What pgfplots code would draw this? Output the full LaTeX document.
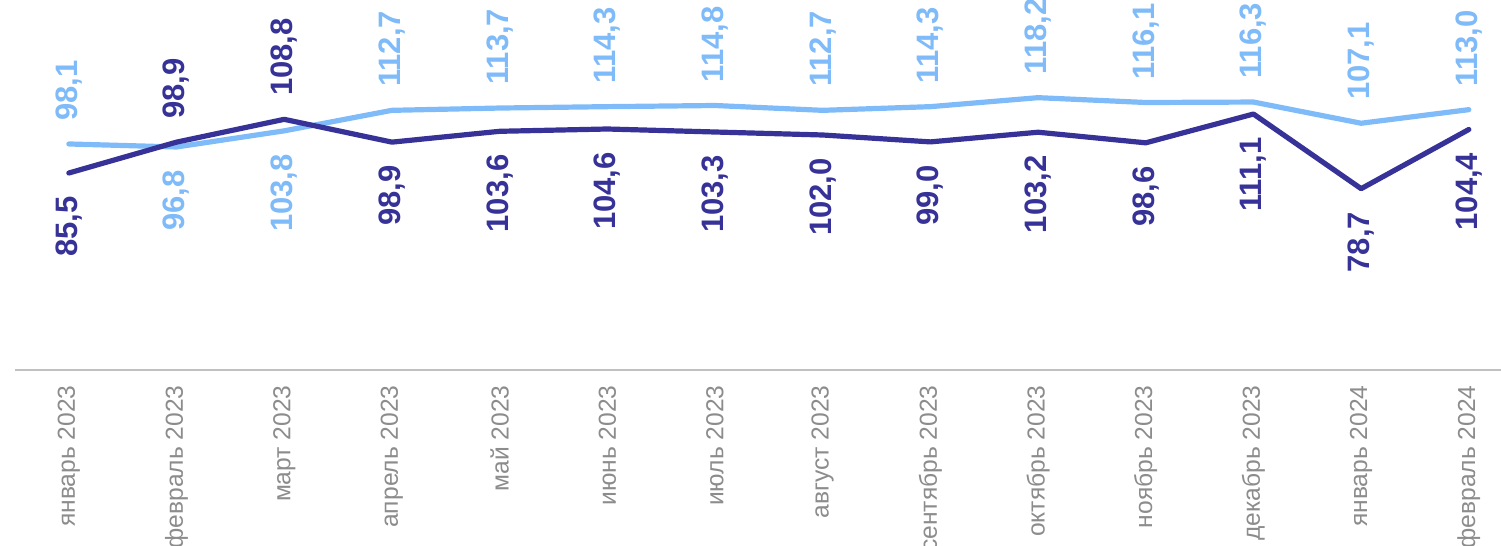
\documentclass[border=0pt]{standalone}
\usepackage{pgfplots}
\pgfplotsset{compat=1.18}
\usepackage{fontspec}
\setmainfont{Liberation Sans}
\definecolor{lightb}{HTML}{7FBBF8}
\definecolor{darkb}{HTML}{363297}
\definecolor{tickgray}{HTML}{8C8C8C}
\definecolor{axgray}{HTML}{C0C0C0}
\begin{document}
\begin{tikzpicture}
\begin{axis}[
  at={(0,0)}, anchor=south west,
  x=53.846pt, y=1.152pt,
  xmin=-0.5, xmax=13.5, ymin=0, ymax=160,
  clip=false,
  hide y axis,
  axis x line=bottom,
  x axis line style={-, draw=axgray, line width=1pt},
  xtick={0,...,13},
  xticklabels={январь 2023,февраль 2023,март 2023,апрель 2023,май 2023,июнь 2023,июль 2023,август 2023,сентябрь 2023,октябрь 2023,ноябрь 2023,декабрь 2023,январь 2024,февраль 2024},
  major tick length=0pt,
  xticklabel style={rotate=90, anchor=east, inner sep=0pt, font=\fontsize{12.3pt}{14pt}\selectfont, text=tickgray},
  xticklabel shift={7.5pt},
  /pgf/number format/.cd, fixed, fixed zerofill, precision=1, use comma, assume math mode=true,
]
% light series
\addplot[lightb, line width=2.6pt, line join=round, line cap=round, mark=none] coordinates {
 (0,98.1) (1,96.8) (2,103.8) (3,112.7) (4,113.7) (5,114.3) (6,114.8) (7,112.7) (8,114.3) (9,118.2) (10,116.1) (11,116.3) (12,107.1) (13,113.0)};
% dark series
\addplot[darkb, line width=2.6pt, line join=round, line cap=round, mark=none] coordinates {
 (0,85.5) (1,98.9) (2,108.8) (3,98.9) (4,103.6) (5,104.6) (6,103.3) (7,102.0) (8,99.0) (9,103.2) (10,98.6) (11,111.1) (12,78.7) (13,104.4)};
% labels light above
\addplot[draw=none, mark=none, nodes near coords,
  every node near coord/.append style={rotate=90, anchor=west, inner xsep=11.5pt, inner ysep=0pt, text=lightb, font=\bfseries\fontsize{15.5pt}{18pt}\selectfont}] coordinates {
 (0,98.1) (3,112.7) (4,113.7) (5,114.3) (6,114.8) (7,112.7) (8,114.3) (9,118.2) (10,116.1) (11,116.3) (12,107.1) (13,113.0)};
% labels light below
\addplot[draw=none, mark=none, nodes near coords,
  every node near coord/.append style={rotate=90, anchor=east, inner xsep=11.5pt, inner ysep=0pt, text=lightb, font=\bfseries\fontsize{15.5pt}{18pt}\selectfont}] coordinates {
 (1,96.8) (2,103.8)};
% labels dark above
\addplot[draw=none, mark=none, nodes near coords,
  every node near coord/.append style={rotate=90, anchor=west, inner xsep=11.5pt, inner ysep=0pt, text=darkb, font=\bfseries\fontsize{15.5pt}{18pt}\selectfont}] coordinates {
 (1,98.9) (2,108.8)};
% labels dark below
\addplot[draw=none, mark=none, nodes near coords,
  every node near coord/.append style={rotate=90, anchor=east, inner xsep=11.5pt, inner ysep=0pt, text=darkb, font=\bfseries\fontsize{15.5pt}{18pt}\selectfont}] coordinates {
 (0,85.5) (3,98.9) (4,103.6) (5,104.6) (6,103.3) (7,102.0) (8,99.0) (9,103.2) (10,98.6) (11,111.1) (12,78.7) (13,104.4)};
\end{axis}
\pgfresetboundingbox
\path[use as bounding box] (-7.5pt,-88pt) rectangle (743pt,185pt);
\end{tikzpicture}
\end{document}
